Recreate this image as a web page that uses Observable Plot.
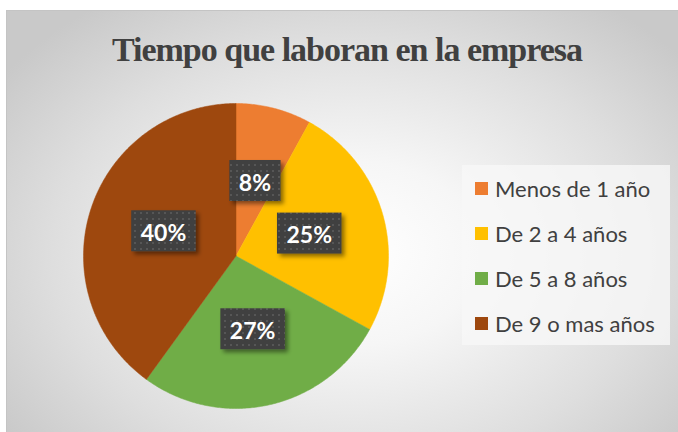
<!DOCTYPE html>
<html><head><meta charset="utf-8">
<script src="https://cdn.jsdelivr.net/npm/d3@7"></script>
<script src="https://cdn.jsdelivr.net/npm/@observablehq/plot@0.6"></script>
<style>
html,body{margin:0;padding:0;background:#fff;width:678px;height:432px;overflow:hidden}
#wrap{position:relative;width:678px;height:432px;overflow:hidden}
#box{position:absolute;left:6px;top:10px;width:690px;height:440px;border:1px solid #c4c4c4;
 background:radial-gradient(ellipse 62% 70% at 50% 55%, #ffffff 0%, #f6f6f6 30%, #dedede 70%, #c9c9c9 100%)}
#title{position:absolute;left:0;top:30px;width:694px;text-align:center;font-family:"Liberation Serif","Times New Roman",serif;font-weight:bold;font-size:34px;letter-spacing:-1px;color:#404040;line-height:40px;white-space:nowrap}
#chart{position:absolute;left:0;top:0}
#legend{position:absolute;left:462px;top:165px;width:208px;height:180px;background:rgba(248,248,248,0.8);font-family:Lato,"Open Sans",sans-serif;font-size:22px;color:#404040}
.item{position:absolute;left:13px;height:24px;display:flex;align-items:center;white-space:nowrap}
.sw{width:13px;height:13px;margin-right:7px;flex:none}
</style></head>
<body><div id="wrap"><div id="box"></div><div id="title">Tiempo que laboran en la empresa</div><div id="chart"></div><div id="legend"></div></div>
<script>
const categories = ["Menos de 1 año","De 2 a 4 años","De 5 a 8 años","De 9 o mas años"];
const values = [8,25,27,40];
const labels = ["8%","25%","27%","40%"];
const colors = ["#ED7D31","#FFC000","#70AD47","#9E480E"];

const arcs = d3.pie().sort(null)(values);
const pts = [];
arcs.forEach((a, i) => {
  const c = categories[i];
  pts.push({cat: c, x: 0, y: 0});
  const n = Math.max(4, Math.ceil((a.endAngle - a.startAngle) / 0.01));
  for (let k = 0; k <= n; k++) {
    const t = a.startAngle + (a.endAngle - a.startAngle) * k / n;
    pts.push({cat: c, x: Math.sin(t), y: Math.cos(t)});
  }
  pts.push({cat: c, x: 0, y: 0});
});
const lab = arcs.map((a, i) => {
  const m = (a.startAngle + a.endAngle) / 2;
  return {label: labels[i], x: 0.5 * Math.sin(m), y: 0.5 * Math.cos(m)};
});

const svg = Plot.plot({
  width: 678, height: 432,
  marginLeft: 83, marginRight: 290, marginTop: 103, marginBottom: 24,
  style: {background: "transparent", overflow: "visible"},
  x: {domain: [-1, 1], axis: null},
  y: {domain: [-1, 1], axis: null},
  color: {domain: categories, range: colors},
  marks: [
    Plot.line(pts, {x: "x", y: "y", z: "cat", fill: "cat", stroke: "cat", strokeWidth: 0.5}),
    Plot.text(lab, {x: "x", y: "y", text: "label", fill: "white", fontSize: 23, fontWeight: "bold",
      fontFamily: "Lato, 'Open Sans', sans-serif", dy: 1})
  ]
});
document.getElementById("chart").appendChild(svg);

const s = d3.select(svg);
const defs = s.insert("defs", ":first-child");
const pat = defs.append("pattern").attr("id", "dots").attr("width", 6).attr("height", 6).attr("patternUnits", "userSpaceOnUse");
pat.append("rect").attr("width", 6).attr("height", 6).attr("fill", "#404040");
pat.append("rect").attr("x", 2).attr("y", 2).attr("width", 2).attr("height", 2).attr("fill", "#575757");
const f = defs.append("filter").attr("id", "shd").attr("x", "-30%").attr("y", "-30%").attr("width", "160%").attr("height", "160%");
f.append("feDropShadow").attr("dx", 3).attr("dy", 3).attr("stdDeviation", 2).attr("flood-color", "#000").attr("flood-opacity", 0.45);

const texts = Array.from(svg.querySelectorAll("text")).filter(t => labels.includes(t.textContent));
const g = texts[0].parentNode;
const sr = svg.getBoundingClientRect();
const boxes = d3.select(g.parentNode).insert("g", () => g);
texts.forEach(t => {
  const r = t.getBoundingClientRect();
  const cx = r.left + r.width / 2 - sr.left, cy = r.top + r.height / 2 - sr.top;
  const w = r.width + 19, h = 41;
  boxes.append("rect").attr("x", cx - w / 2).attr("y", cy - h / 2 - 1).attr("width", w).attr("height", h)
    .attr("fill", "url(#dots)").attr("filter", "url(#shd)");
});

const leg = d3.select("#legend");
categories.forEach((c, i) => {
  const it = leg.append("div").attr("class", "item").style("top", (11 + i * 45) + "px");
  it.append("div").attr("class", "sw").style("background", colors[i]);
  it.append("span").text(c);
});
</script></body></html>
